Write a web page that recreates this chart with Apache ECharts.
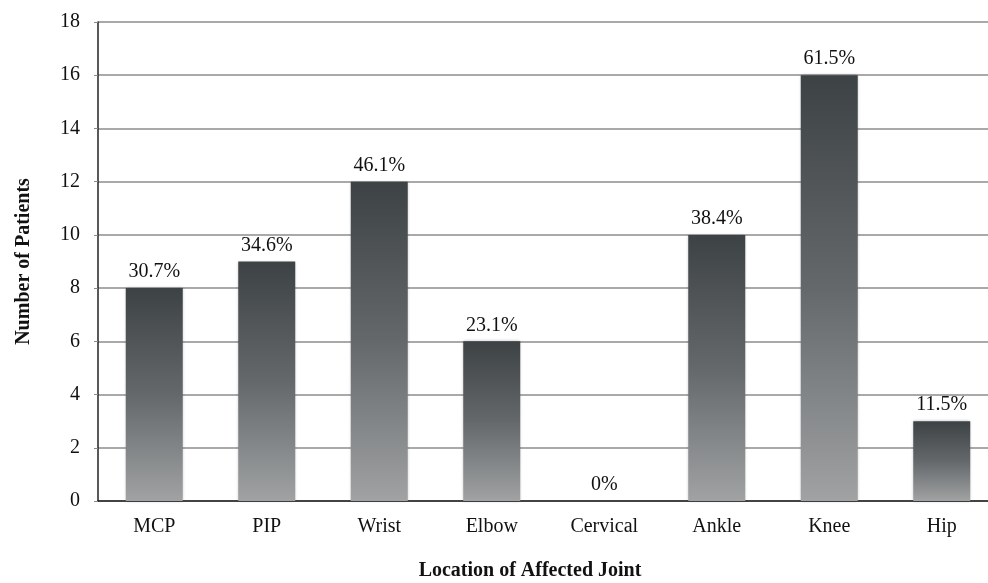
<!DOCTYPE html>
<html>
<head>
<meta charset="utf-8">
<script src="https://cdn.jsdelivr.net/npm/echarts@6/dist/echarts.min.js"></script>
<style>html,body{margin:0;padding:0;background:#fff}#c{width:988px;height:583px}</style>
</head>
<body>
<div id="c"></div>
<script>
const categories = ['MCP', 'PIP', 'Wrist', 'Elbow', 'Cervical', 'Ankle', 'Knee', 'Hip'];
const patients = [8, 9, 12, 6, 0, 10, 16, 3];
const percentLabels = ['30.7%', '34.6%', '46.1%', '23.1%', '0%', '38.4%', '61.5%', '11.5%'];
const yTicks = { min: 0, max: 18, interval: 2 };

const font = '"Liberation Serif", "Times New Roman", serif';
const chart = echarts.init(document.getElementById('c'), null, { renderer: 'canvas' });
chart.setOption({
  animation: false,
  backgroundColor: '#ffffff',
  grid: { left: 98, top: 22, width: 900, bottom: 82, outerBoundsMode: 'none', containLabel: false },
  xAxis: {
    type: 'category',
    data: categories,
    name: 'Location of Affected Joint',
    nameLocation: 'middle',
    nameGap: 60,
    nameTextStyle: { fontFamily: font, fontSize: 20, fontWeight: 'bold', color: '#111', padding: [0, 36, 0, 0] },
    axisLine: { lineStyle: { color: '#222', width: 1.5 } },
    axisTick: { show: false },
    axisLabel: { fontFamily: font, fontSize: 20, color: '#111', margin: 16 }
  },
  yAxis: {
    type: 'value',
    min: yTicks.min, max: yTicks.max, interval: yTicks.interval,
    name: 'Number of Patients',
    nameLocation: 'middle',
    nameGap: 64,
    nameTextStyle: { fontFamily: font, fontSize: 20, fontWeight: 'bold', color: '#111' },
    axisLine: { show: true, lineStyle: { color: '#222', width: 1.5 } },
    axisTick: { show: true, length: 4, lineStyle: { color: '#888' } },
    axisLabel: { fontFamily: font, fontSize: 20, color: '#111', margin: 18 },
    splitLine: { lineStyle: { color: '#8c8c8c', width: 1.5 } }
  },
  series: [{
    type: 'bar',
    data: patients,
    barWidth: 57,
    itemStyle: {
      color: new echarts.graphic.LinearGradient(0, 0, 0, 1, [
        { offset: 0, color: '#3d4245' },
        { offset: 0.5, color: '#64686b' },
        { offset: 1, color: '#a0a2a3' }
      ]),
      shadowColor: 'rgba(0,0,0,0.25)',
      shadowBlur: 3
    },
    label: {
      show: true,
      position: 'top',
      distance: 6,
      fontFamily: font,
      fontSize: 20,
      color: '#111',
      formatter: p => percentLabels[p.dataIndex]
    }
  }]
});
</script>
</body>
</html>
